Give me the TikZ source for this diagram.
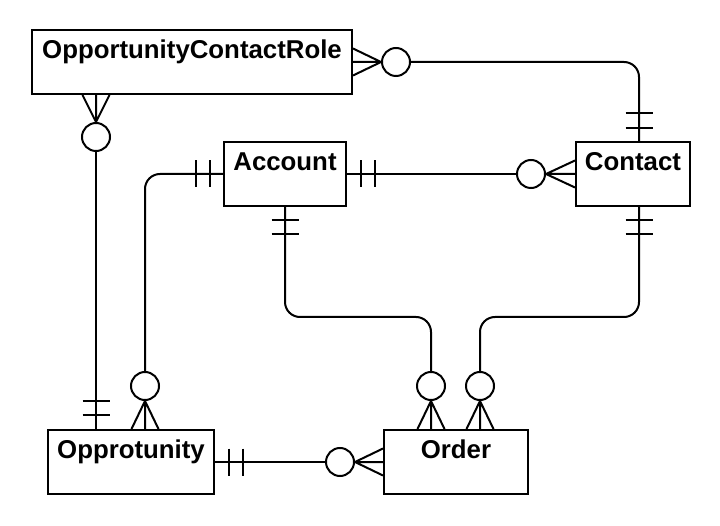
\documentclass[tikz,border=0pt]{standalone}
\usepackage{fontspec}
\setmainfont{Liberation Sans}
\begin{document}
\begin{tikzpicture}[x=1pt,y=-1pt,line width=2pt,line join=miter,
  box/.style={draw,rectangle,inner sep=0pt,line width=2pt,minimum height=64pt},
  lbl/.style={anchor=base,inner sep=0pt,font=\bfseries\fontsize{25.8}{30}\selectfont},
  zero/.style={draw,circle,minimum size=28pt,inner sep=0pt,fill=white,line width=2pt},
  conn/.style={line width=2pt,rounded corners=15pt},
  rel/.style={line width=2pt}]
\useasboundingbox (0,0) rectangle (720,526);
% entities
\node[box,minimum width=320pt] (ocr) at (192,62) {};
\node[box,minimum width=122pt] (acc) at (285,174) {};
\node[box,minimum width=114pt] (con) at (633,174) {};
\node[box,minimum width=166pt] (opp) at (131,462) {};
\node[box,minimum width=144pt] (ord) at (456,462) {};
\node[lbl] (ocrL) at (192,58.5) {OpportunityContactRole};
\node[lbl] (accL) at (285,170.5) {Account};
\node[lbl] (conL) at (633,170.5) {Contact};
\node[lbl] (oppL) at (131,458.5) {Opprotunity};
\node[lbl] (ordL) at (456,458.5) {Order};
% optional markers (circles)
\node[zero] (z1) at (396,62) {};
\node[zero] (z2) at (96,137) {};
\node[zero] (z3) at (531,174) {};
\node[zero] (z4) at (145,386) {};
\node[zero] (z5) at (431,386) {};
\node[zero] (z6) at (480,386) {};
\node[zero] (z7) at (340,462) {};
% attachment points
\coordinate (ct) at ([xshift=6pt]con.north);
\coordinate (cb) at ([xshift=6pt]con.south);
\coordinate (ob) at ([xshift=-96pt]ocr.south);
\coordinate (pt1) at ([xshift=-35pt]opp.north);
\coordinate (pt2) at ([xshift=14pt]opp.north);
\coordinate (rt1) at ([xshift=-25pt]ord.north);
\coordinate (rt2) at ([xshift=24pt]ord.north);
\coordinate (m1) at (431,317);
\coordinate (m2) at (480,317);
% OpportunityContactRole -- Contact
\draw[conn] (z1.east) -| (ct);
\draw[rel] (z1.west) -- (ocr.east)
  (z1.west) -- ([yshift=13.5pt]ocr.east)
  (z1.west) -- ([yshift=-13.5pt]ocr.east);
\draw[rel] ([yshift=13pt]ct) ++(-13.5,0) -- ++(27,0)
  ([yshift=28pt]ct) ++(-13.5,0) -- ++(27,0);
% OpportunityContactRole -- Opprotunity
\draw[rel] (z2.south) -- (pt1);
\draw[rel] (z2.north) -- (ob)
  (z2.north) -- ([xshift=13.5pt]ob)
  (z2.north) -- ([xshift=-13.5pt]ob);
\draw[rel] ([yshift=14pt]pt1) ++(-13.5,0) -- ++(27,0)
  ([yshift=28pt]pt1) ++(-13.5,0) -- ++(27,0);
% Account -- Contact
\draw[rel] (acc.east) -- (z3.west);
\draw[rel] (z3.east) -- (con.west)
  (z3.east) -- ([yshift=13.5pt]con.west)
  (z3.east) -- ([yshift=-13.5pt]con.west);
\draw[rel] ([xshift=14pt]acc.east) ++(0,-13.5) -- ++(0,27)
  ([xshift=28pt]acc.east) ++(0,-13.5) -- ++(0,27);
% Account -- Opprotunity
\draw[conn] (acc.west) -| (z4.north);
\draw[rel] (z4.south) -- (pt2)
  (z4.south) -- ([xshift=13.5pt]pt2)
  (z4.south) -- ([xshift=-13.5pt]pt2);
\draw[rel] ([xshift=-13pt]acc.west) ++(0,-13.5) -- ++(0,27)
  ([xshift=-27pt]acc.west) ++(0,-13.5) -- ++(0,27);
% Account -- Order
\draw[conn] (acc.south) |- (m1) -- (z5.north);
\draw[rel] (z5.south) -- (rt1)
  (z5.south) -- ([xshift=13.5pt]rt1)
  (z5.south) -- ([xshift=-13.5pt]rt1);
\draw[rel] ([yshift=-13pt]acc.south) ++(-13.5,0) -- ++(27,0)
  ([yshift=-27pt]acc.south) ++(-13.5,0) -- ++(27,0);
% Contact -- Order
\draw[conn] (cb) |- (m2) -- (z6.north);
\draw[rel] (z6.south) -- (rt2)
  (z6.south) -- ([xshift=13.5pt]rt2)
  (z6.south) -- ([xshift=-13.5pt]rt2);
\draw[rel] ([yshift=-13pt]cb) ++(-13.5,0) -- ++(27,0)
  ([yshift=-27pt]cb) ++(-13.5,0) -- ++(27,0);
% Opprotunity -- Order
\draw[rel] (opp.east) -- (z7.west);
\draw[rel] (z7.east) -- (ord.west)
  (z7.east) -- ([yshift=13.5pt]ord.west)
  (z7.east) -- ([yshift=-13.5pt]ord.west);
\draw[rel] ([xshift=14pt]opp.east) ++(0,-13.5) -- ++(0,27)
  ([xshift=28pt]opp.east) ++(0,-13.5) -- ++(0,27);
\end{tikzpicture}
\end{document}
